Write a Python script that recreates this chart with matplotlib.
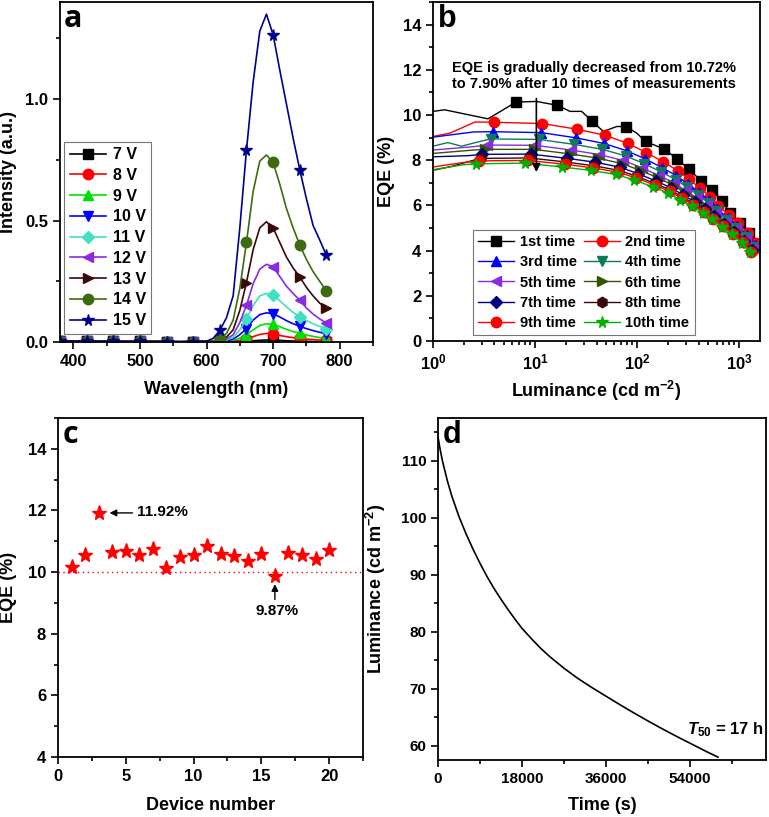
import numpy as np
import matplotlib
matplotlib.use("Agg")
import matplotlib.pyplot as plt
from matplotlib.ticker import MultipleLocator, LogLocator, NullFormatter, LogFormatterMathtext

plt.rcParams["font.family"] = ["Liberation Sans", "DejaVu Sans"]
plt.rcParams["font.weight"] = "bold"
plt.rcParams["axes.labelweight"] = "bold"
plt.rcParams["mathtext.fontset"] = "custom"
plt.rcParams["mathtext.rm"] = "Liberation Sans:bold"
plt.rcParams["mathtext.bf"] = "Liberation Sans:bold"
plt.rcParams["mathtext.it"] = "Liberation Sans:italic:bold"
plt.rcParams["mathtext.default"] = "rm"

# ---------------- panel a: EL spectra ----------------
wl_low = [380, 400, 420, 440, 460, 480, 500, 520, 540, 560, 580, 600]
base_low = [0.006, 0.004, 0.005, 0.003, 0.004, 0.002, 0.003, 0.002, 0.002, 0.001, 0.002, 0.003]
wl_high = [610, 620, 630, 640, 650, 660, 670, 680, 690, 700, 710, 720, 730, 740, 750, 760, 770, 780]
int_7V = [0, 0, 0, 0.001, 0.002, 0.003, 0.005, 0.007, 0.008, 0.008, 0.007, 0.005, 0.004, 0.003, 0.003, 0.002, 0.002, 0.002]
int_8V = [0, 0, 0.001, 0.003, 0.007, 0.012, 0.022, 0.031, 0.035, 0.032, 0.027, 0.022, 0.018, 0.015, 0.012, 0.01, 0.008, 0.007]
int_9V = [0.0, 0.001, 0.003, 0.007, 0.016, 0.03, 0.05, 0.068, 0.075, 0.073, 0.063, 0.052, 0.043, 0.036, 0.029, 0.023, 0.018, 0.015]
int_10V = [0.001, 0.002, 0.005, 0.012, 0.03, 0.055, 0.09, 0.113, 0.12, 0.117, 0.103, 0.088, 0.075, 0.065, 0.055, 0.047, 0.04, 0.035]
int_11V = [0.001, 0.003, 0.008, 0.02, 0.05, 0.095, 0.15, 0.19, 0.20, 0.193, 0.17, 0.145, 0.122, 0.103, 0.088, 0.075, 0.064, 0.055]
int_12V = [0.002, 0.005, 0.012, 0.03, 0.08, 0.151, 0.24, 0.30, 0.32, 0.31, 0.27, 0.23, 0.20, 0.172, 0.14, 0.115, 0.095, 0.078]
int_13V = [0.003, 0.008, 0.02, 0.05, 0.13, 0.245, 0.38, 0.47, 0.495, 0.47, 0.41, 0.35, 0.305, 0.268, 0.225, 0.19, 0.16, 0.138]
int_14V = [0.005, 0.015, 0.035, 0.09, 0.22, 0.41, 0.62, 0.745, 0.77, 0.74, 0.65, 0.55, 0.47, 0.40, 0.34, 0.29, 0.25, 0.21]
int_15V = [0.015, 0.048, 0.10, 0.19, 0.47, 0.79, 1.07, 1.28, 1.35, 1.265, 1.12, 0.98, 0.84, 0.71, 0.59, 0.48, 0.42, 0.357]
volt_labels = ["7 V", "8 V", "9 V", "10 V", "11 V", "12 V", "13 V", "14 V", "15 V"]

# ---------------- panel b: EQE vs luminance, 10 runs ----------------
lum_1 = [1.0, 1.3, 3.46, 6.5, 10.3, 16.5, 22, 28.6, 36.4, 46.7, 63, 78, 99, 121, 185, 248, 321, 420, 547, 680, 822, 1014, 1262, 1490]
eqe_1 = [10.16, 10.23, 9.83, 10.57, 10.6, 10.43, 10.16, 10.16, 9.72, 9.27, 9.49, 9.49, 9.2, 8.83, 8.49, 8.04, 7.61, 7.10, 6.68, 6.18, 5.65, 5.23, 4.80, 4.30]
mark_1 = [3, 5, 8, 11, 13, 14, 15, 16, 17, 18, 19, 20, 21, 22, 23]
lum_2 = [1.0, 1.47, 2.58, 4.0, 11.8, 25.9, 48.7, 81.5, 123, 181, 250, 322, 414, 519, 625, 788, 985, 1230, 1460]
eqe_2 = [9.05, 9.2, 9.69, 9.68, 9.62, 9.37, 9.10, 8.74, 8.34, 7.92, 7.54, 7.16, 6.76, 6.39, 5.99, 5.57, 5.20, 4.76, 4.35]
lum_3 = [1.0, 2.5, 3.9, 11.5, 25.2, 47.3, 79, 119.5, 176, 243, 313, 403, 506, 610, 770, 963, 1203, 1430]
eqe_3 = [9.02, 9.25, 9.26, 9.22, 8.99, 8.74, 8.42, 8.06, 7.67, 7.31, 6.95, 6.58, 6.23, 5.85, 5.45, 5.09, 4.67, 4.25]
lum_4 = [1.0, 1.4, 1.9, 3.0, 3.68, 10.9, 24.2, 45.6, 77.2, 116.6, 172.7, 239, 310, 399, 502, 607, 765, 956, 1194, 1425]
eqe_4 = [8.62, 8.78, 8.62, 8.85, 8.94, 8.92, 8.70, 8.48, 8.19, 7.85, 7.48, 7.14, 6.80, 6.45, 6.11, 5.75, 5.36, 5.01, 4.60, 4.18]
lum_5 = [1.0, 2.5, 3.39, 10.05, 22.6, 42.7, 73.1, 110.5, 164.7, 229, 298, 385, 486, 589, 743, 929, 1159, 1390]
eqe_5 = [8.45, 8.6, 8.67, 8.66, 8.45, 8.25, 7.99, 7.67, 7.32, 7.00, 6.66, 6.33, 6.00, 5.65, 5.28, 4.94, 4.53, 4.11]
lum_6 = [1.0, 2.5, 3.25, 9.66, 21.9, 41.3, 71.1, 107.5, 161, 224, 292, 378, 478, 581, 732, 915, 1142, 1372]
eqe_6 = [8.3, 8.45, 8.48, 8.48, 8.28, 8.09, 7.85, 7.55, 7.21, 6.90, 6.57, 6.25, 5.93, 5.59, 5.23, 4.89, 4.49, 4.07]
lum_7 = [1.0, 2.2, 3.03, 9.03, 20.7, 39.1, 67.9, 102.7, 154.6, 215, 283, 366, 465, 567, 714, 892, 1113, 1345]
eqe_7 = [8.15, 8.2, 8.26, 8.27, 8.08, 7.91, 7.69, 7.40, 7.07, 6.78, 6.46, 6.16, 5.84, 5.52, 5.17, 4.83, 4.44, 4.02]
lum_8 = [1.0, 1.5, 2.5, 2.93, 8.74, 20.1, 38.0, 66.4, 100.5, 151.7, 211.5, 278, 361, 459, 560, 705, 882, 1100, 1330]
eqe_8 = [7.55, 7.72, 8.0, 8.08, 8.10, 7.92, 7.75, 7.55, 7.28, 6.96, 6.68, 6.37, 6.08, 5.77, 5.46, 5.12, 4.78, 4.40, 3.98]
lum_9 = [1.0, 2.0, 2.83, 8.46, 19.6, 37.0, 65.0, 98.4, 148.8, 208, 274, 356, 453, 554, 697, 872, 1087, 1318]
eqe_9 = [7.7, 7.9, 7.97, 7.99, 7.82, 7.66, 7.47, 7.21, 6.90, 6.62, 6.31, 6.03, 5.73, 5.42, 5.09, 4.75, 4.38, 3.95]
lum_10 = [1.0, 2.0, 2.64, 7.9, 18.5, 35, 62, 94, 143, 200, 265, 345, 440, 540, 680, 850, 1060, 1290]
eqe_10 = [7.58, 7.8, 7.84, 7.87, 7.70, 7.55, 7.37, 7.12, 6.82, 6.55, 6.25, 5.98, 5.68, 5.38, 5.05, 4.72, 4.35, 3.92]
lead_points = [None, 3, 2, 4, 2, 2, 2, 3, 2, 2]  # unmarked points at the low-luminance start
run_labels = ["1st time", "2nd time", "3rd time", "4th time", "5th time",
              "6th time", "7th time", "8th time", "9th time", "10th time"]

# ---------------- panel c: EQE of 20 devices ----------------
device_no = list(range(1, 21))
device_eqe = [10.15, 10.54, 11.92, 10.64, 10.67, 10.54, 10.76, 10.13, 10.50, 10.55,
              10.85, 10.60, 10.53, 10.36, 10.59, 9.87, 10.62, 10.56, 10.44, 10.72]

# ---------------- panel d: lifetime ----------------
time_s = [0, 500, 1000, 2000, 3000, 4500, 6000, 7500, 9000, 10500, 12000, 13500, 15000,
          16500, 18000, 20000, 22000, 24000, 27000, 30000, 33000, 36000, 39000, 42000,
          45000, 48000, 51000, 54000, 57000, 60000]
lum_t = [114.2, 111.8, 109.8, 106.5, 103.7, 100.2, 97.2, 94.5, 92.0, 89.7, 87.6, 85.7, 83.9,
         82.2, 80.6, 78.8, 77.1, 75.6, 73.6, 71.8, 70.2, 68.7, 67.2, 65.75,
         64.35, 63.0, 61.7, 60.45, 59.2, 58.0]


def style_axes(ax):
    for sp in ax.spines.values():
        sp.set_linewidth(1.3)
    ax.tick_params(which="both", direction="out", width=1.2, labelsize=12,
                   top=False, right=False)
    ax.tick_params(which="major", length=5)
    ax.tick_params(which="minor", length=3)


fig = plt.figure(figsize=(7.69, 8.17), dpi=100)
W, H = 769, 817


def add_axes(l, t, r, b):
    return fig.add_axes([l / W, 1 - b / H, (r - l) / W, (b - t) / H])


ax_a = add_axes(60, 2, 373, 342)
ax_b = add_axes(433, 2, 760, 341)
ax_c = add_axes(58, 418, 363, 757)
ax_d = add_axes(438, 418, 766, 760)

# ---- a ----
wl = wl_low + wl_high
spectra = [int_7V, int_8V, int_9V, int_10V, int_11V, int_12V, int_13V, int_14V, int_15V]
a_colors = ["black", "red", "#00e000", "blue", "#40e0c0", "#8a2be2", "#3a0808", "#3d6b10", "#000090"]
a_markers = ["s", "o", "^", "v", "D", "<", ">", "o", "*"]
a_marks = [0, 2, 4, 6, 8, 10, 13, 17, 21, 25, 29]
for vals, col, mk, lab in zip(spectra, a_colors, a_markers, volt_labels):
    y = base_low + vals
    ms = 8.5 if mk == "*" else (6.5 if mk == "D" else 7.5)
    ax_a.plot(wl, y, color=col, lw=1.2, marker=mk, ms=ms, markevery=a_marks, label=lab)
ax_a.set_xlim(380, 850)
ax_a.set_ylim(0, 1.40)
ax_a.xaxis.set_major_locator(MultipleLocator(100))
ax_a.xaxis.set_minor_locator(MultipleLocator(50))
ax_a.yaxis.set_major_locator(MultipleLocator(0.5))
ax_a.yaxis.set_minor_locator(MultipleLocator(0.25))
ax_a.yaxis.set_major_formatter(plt.FormatStrFormatter("%.1f"))
style_axes(ax_a)
ax_a.set_xlabel("Wavelength (nm)", fontsize=13)
ax_a.set_ylabel("Intensity (a.u.)", fontsize=13)
ax_a.xaxis.set_label_coords(0.5, -0.115)
ax_a.yaxis.set_label_coords(-0.137, 0.5)
leg = ax_a.legend(loc="lower left", bbox_to_anchor=(0.013, 0.024), borderaxespad=0,
                  fontsize=11.5, frameon=True, fancybox=False, edgecolor="#555555",
                  handlelength=2.3, labelspacing=0.36, borderpad=0.35, handletextpad=0.4)
leg.get_frame().set_linewidth(0.8)
ax_a.text(0.012, 0.995, "a", transform=ax_a.transAxes, fontsize=22, fontweight="bold",
          family="Open Sans", va="top", ha="left")

# ---- b ----
lums = [lum_1, lum_2, lum_3, lum_4, lum_5, lum_6, lum_7, lum_8, lum_9, lum_10]
eqes = [eqe_1, eqe_2, eqe_3, eqe_4, eqe_5, eqe_6, eqe_7, eqe_8, eqe_9, eqe_10]
b_colors = ["black", "red", "blue", "#0f7a5a", "#8a2be2", "#335500", "#000080", "#3a0808", "red", "#00b000"]
b_markers = ["s", "o", "^", "v", "<", ">", "D", "h", "o", "*"]
handles = []
for i, (x, y) in enumerate(zip(lums, eqes)):
    me = mark_1 if i == 0 else list(range(lead_points[i], len(x)))
    ms = 8.5 if b_markers[i] == "*" else (6.5 if b_markers[i] == "D" else 7.5)
    h, = ax_b.plot(x, y, color=b_colors[i], lw=1.0, marker=b_markers[i], ms=ms,
                   markevery=me, label=run_labels[i])
    handles.append(h)
ax_b.set_xscale("log")
ax_b.set_xlim(1, 1600)
ax_b.set_ylim(0, 15)
ax_b.xaxis.set_major_locator(LogLocator(base=10))
ax_b.xaxis.set_minor_locator(LogLocator(base=10, subs=np.arange(2, 10)))
ax_b.xaxis.set_minor_formatter(NullFormatter())
ax_b.xaxis.set_major_formatter(LogFormatterMathtext())
ax_b.yaxis.set_major_locator(MultipleLocator(2))
ax_b.yaxis.set_minor_locator(MultipleLocator(1))
style_axes(ax_b)
ax_b.set_xlabel(r"Luminance (cd m$^{-2}$)", fontsize=13)
ax_b.set_ylabel("EQE (%)", fontsize=13)
ax_b.xaxis.set_label_coords(0.5, -0.112)
ax_b.yaxis.set_label_coords(-0.115, 0.5)
order = [0, 2, 4, 6, 8, 1, 3, 5, 7, 9]
leg_b = ax_b.legend([handles[k] for k in order], [run_labels[k] for k in order], ncol=2,
                    loc="lower left", bbox_to_anchor=(0.122, 0.018), borderaxespad=0,
                    fontsize=10.5, frameon=True, fancybox=False, edgecolor="#555555",
                    handlelength=2.5, labelspacing=0.42, borderpad=0.35,
                    handletextpad=0.35, columnspacing=0.5)
leg_b.get_frame().set_linewidth(0.8)
ax_b.text(0.492, 0.782, "EQE is gradually decreased from 10.72%\nto 7.90% after 10 times of measurements",
          transform=ax_b.transAxes, ha="center", va="center", fontsize=10.5, linespacing=1.25)
ax_b.annotate("", xy=(10.3, 7.35), xytext=(10.3, 10.85), zorder=6,
              arrowprops=dict(arrowstyle="-|>", color="black", lw=1.2, mutation_scale=12))
ax_b.text(0.015, 0.995, "b", transform=ax_b.transAxes, fontsize=22, fontweight="bold",
          va="top", ha="left")

# ---- c ----
ax_c.plot(device_no, device_eqe, ls="none", marker="*", ms=11, color="red")
ax_c.axhline(10, color="red", ls=(0, (1, 2.5)), lw=1.0)
ax_c.set_xlim(0, 22.5)
ax_c.set_ylim(4, 15)
ax_c.xaxis.set_major_locator(MultipleLocator(5))
ax_c.xaxis.set_minor_locator(MultipleLocator(2.5))
ax_c.yaxis.set_major_locator(MultipleLocator(2))
ax_c.yaxis.set_minor_locator(MultipleLocator(1))
style_axes(ax_c)
ax_c.set_xlabel("Device number", fontsize=13)
ax_c.set_ylabel("EQE (%)", fontsize=13)
ax_c.xaxis.set_label_coords(0.5, -0.118)
ax_c.yaxis.set_label_coords(-0.134, 0.5)
ax_c.annotate("", xy=(3.6, 11.92), xytext=(5.7, 11.92),
              arrowprops=dict(arrowstyle="-|>", color="black", lw=1.0, mutation_scale=10))
ax_c.text(5.8, 11.95, "11.92%", fontsize=11, ha="left", va="center")
ax_c.annotate("", xy=(16, 9.7), xytext=(16, 9.02),
              arrowprops=dict(arrowstyle="-|>", color="black", lw=1.0, mutation_scale=10))
ax_c.text(16.15, 8.75, "9.87%", fontsize=11, ha="center", va="center")
ax_c.text(0.015, 0.995, "c", transform=ax_c.transAxes, fontsize=22, fontweight="bold",
          family="Open Sans", va="top", ha="left")

# ---- d ----
ax_d.plot(time_s, lum_t, color="black", lw=1.2)
ax_d.set_xlim(0, 70300)
ax_d.set_ylim(57.5, 117.5)
ax_d.xaxis.set_major_locator(MultipleLocator(18000))
ax_d.xaxis.set_minor_locator(MultipleLocator(9000))
ax_d.yaxis.set_major_locator(MultipleLocator(10))
ax_d.yaxis.set_minor_locator(MultipleLocator(5))
style_axes(ax_d)
ax_d.tick_params(labelsize=11)
ax_d.set_xlabel("Time (s)", fontsize=13)
ax_d.set_ylabel(r"Luminance (cd m$^{-2}$)", fontsize=13)
ax_d.xaxis.set_label_coords(0.5, -0.108)
ax_d.yaxis.set_label_coords(-0.152, 0.5)
ax_d.text(0.992, 0.088, r"$\mathit{T}_{50}$ = 17 h", transform=ax_d.transAxes,
          fontsize=12, ha="right", va="center")
ax_d.text(0.015, 0.995, "d", transform=ax_d.transAxes, fontsize=22, fontweight="bold",
          va="top", ha="left")

fig.savefig("out.png", dpi=100)
